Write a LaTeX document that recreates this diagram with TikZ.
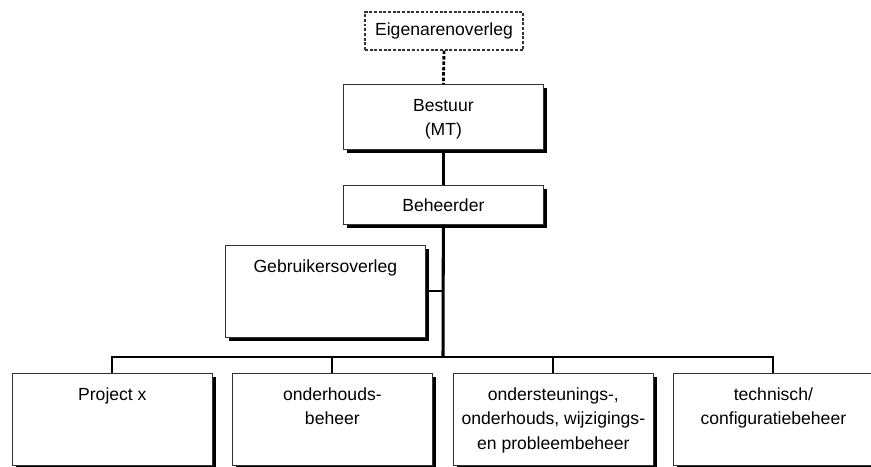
\documentclass[tikz,border=0pt]{standalone}
\usepackage{fontspec}
\setmainfont{Liberation Sans}
\usetikzlibrary{shadows}
\newcommand{\boxtext}[3]{\parbox[t][#2][t]{#1}{\centering\rule{0pt}{0.8cm}#3}}

\begin{document}
\begin{tikzpicture}[x=0.03cm, y=-0.03cm, font=\fontsize{15}{21}\selectfont]
    % Define styles
    \tikzset{
        orgbox/.style={draw=black!80, line width=0.6pt, fill=white, inner sep=0pt, anchor=north west,
            drop shadow={shadow xshift=3.4pt, shadow yshift=-3.4pt, opacity=1, fill=black}},
        overleg/.style={draw=black!80, line width=1.1pt, dash pattern=on 2.5pt off 1.5pt, fill=white,
            minimum width=4.74cm, minimum height=1.14cm, inner sep=0pt},
        trunk/.style={line width=2.6pt},
        branch/.style={line width=1.7pt},
        dotline/.style={line width=2.4pt, dash pattern=on 3pt off 1.6pt}
    }

    % Page frame
    \clip (0,0) rectangle (871,466);

    % Top of the chart
    \node[overleg] (eigen) at (444,31) {Eigenarenoverleg};
    \node[orgbox] (bestuur) at (343,84) {\boxtext{6cm}{1.95cm}{Bestuur\\(MT)}};
    \node[orgbox, minimum width=6cm, minimum height=1.17cm] (beheer) at (343,185) {Beheerder};
    \node[orgbox] (gebruik) at (225,245) {\boxtext{6cm}{2.76cm}{Gebruikersoverleg}};

    % Bottom row
    \node[orgbox] (proj) at (12,373) {\boxtext{6cm}{2.76cm}{Project x}};
    \node[orgbox] (onderh) at (232,373) {\boxtext{6cm}{2.76cm}{onderhouds-\\beheer}};
    \node[orgbox] (onderst) at (453,373) {\boxtext{6cm}{2.76cm}{ondersteunings-,\\onderhouds, wijzigings-\\en probleembeheer}};
    \node[orgbox] (tech) at (673,373) {\boxtext{6cm}{2.76cm}{technisch/\\configuratiebeheer}};

    % Connections
    \coordinate (bus) at (443,357);
    \draw[dotline] (eigen.south) -- (bestuur.north);
    \draw[trunk] (bestuur.south) -- (beheer.north);
    \draw[trunk] (beheer.south) -- (bus);
    \draw[branch] (gebruik.east) -- (gebruik.east -| bus);
    \draw[branch] (proj.north) |- (bus) -| (tech.north);
    \foreach \b in {onderh, onderst} {
        \draw[branch] (\b.north) -- (\b.north |- bus);
    }
\end{tikzpicture}
\end{document}
